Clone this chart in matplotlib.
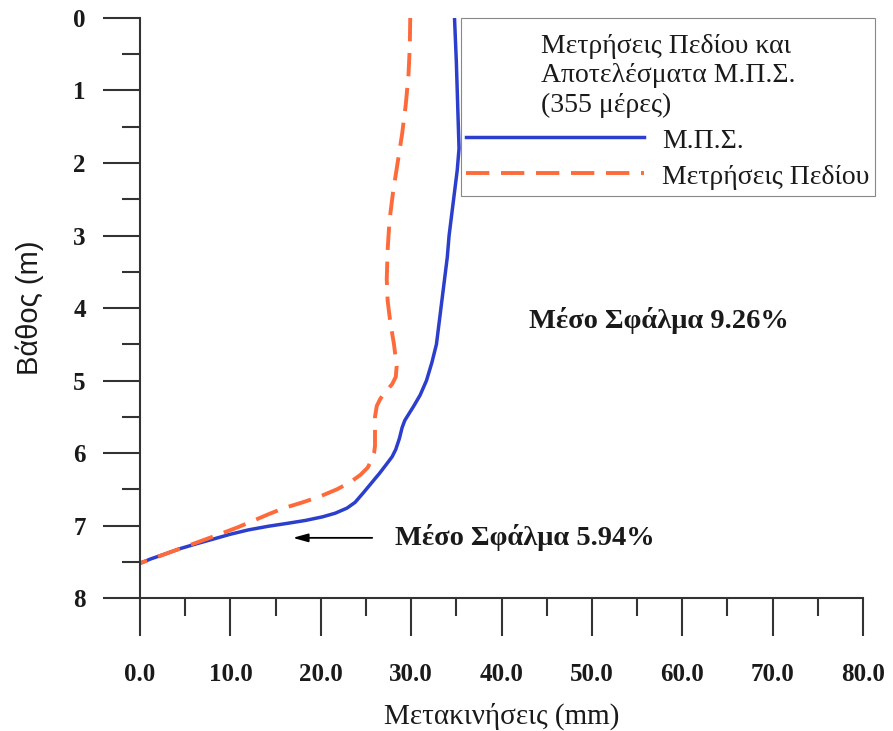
import matplotlib.pyplot as plt
from matplotlib.ticker import MultipleLocator
from matplotlib.offsetbox import DrawingArea

# βάθος (m) και μετακινήσεις (mm)
mps_depth = [0.0, 0.3, 0.6, 1.0, 1.4, 1.8, 2.1, 2.4, 2.7, 3.0, 3.3, 3.6, 3.9, 4.2,
             4.5, 4.75, 5.0, 5.2, 5.35, 5.45, 5.55, 5.65, 5.8, 5.95, 6.05, 6.15,
             6.28, 6.4, 6.55, 6.68, 6.76, 6.83, 6.88, 6.93, 6.97, 7.01, 7.06,
             7.12, 7.18, 7.25, 7.32, 7.4, 7.46, 7.52]
mps_disp = [34.8, 34.9, 35.0, 35.1, 35.2, 35.3, 35.1, 34.8, 34.5, 34.2, 34.0, 33.7,
            33.4, 33.1, 32.8, 32.3, 31.7, 31.0, 30.3, 29.8, 29.3, 29.0, 28.7, 28.3,
            27.9, 27.3, 26.5, 25.7, 24.7, 23.8, 22.9, 21.6, 20.2, 18.3, 16.3, 14.2,
            12.0, 10.0, 8.3, 6.3, 4.4, 2.6, 1.2, 0.0]

field_depth = [0.0, 0.4, 0.8, 1.2, 1.6, 2.0, 2.4, 2.8, 3.2, 3.6, 3.9, 4.2, 4.5, 4.8,
               4.95, 5.05, 5.15, 5.25, 5.35, 5.5, 5.7, 5.9, 6.0, 6.1, 6.2, 6.3, 6.4,
               6.5, 6.6, 6.68, 6.76, 6.84, 6.93, 7.02, 7.12, 7.22, 7.32, 7.42, 7.52]
field_disp = [29.9, 29.85, 29.7, 29.4, 29.0, 28.5, 28.0, 27.6, 27.4, 27.3, 27.4, 27.7,
              28.1, 28.4, 28.3, 27.9, 27.2, 26.6, 26.2, 26.0, 26.0, 26.0, 25.9, 25.6,
              25.2, 24.4, 23.3, 21.8, 19.9, 18.0, 15.9, 14.3, 12.6, 10.9, 8.8, 6.6,
              4.4, 2.2, 0.0]

x_ticks = [0, 10, 20, 30, 40, 50, 60, 70, 80]
y_ticks = [0, 1, 2, 3, 4, 5, 6, 7, 8]

serif = ['Liberation Serif', 'DejaVu Serif']
txt = '#1a1a1a'

fig = plt.figure(figsize=(8.93, 7.31), dpi=100)
ax = fig.add_axes([0.1568, 0.1819, 0.8096, 0.7935])

ax.plot(mps_disp, mps_depth, color='#2b3fcc', lw=2.5, label='Μ.Π.Σ.')
ax.plot(field_disp, field_depth, color='#ff6a3a', lw=2.8, dashes=(6, 3),
        label='Μετρήσεις Πεδίου')

ax.set_xlim(0, 80)
ax.set_ylim(8, 0)
ax.set_xticks(x_ticks)
ax.set_yticks(y_ticks)
ax.set_xticklabels(['%.1f' % v for v in x_ticks], fontfamily=serif, fontsize=18,
                   color=txt, fontweight='bold')
ax.set_yticklabels([str(v) for v in y_ticks], fontfamily=serif, fontsize=18,
                   color=txt, fontweight='bold')
ax.xaxis.set_minor_locator(MultipleLocator(5))
ax.yaxis.set_minor_locator(MultipleLocator(0.5))
ax.tick_params(which='major', length=27, width=1.5, color='#333333')
ax.tick_params(which='minor', length=13, width=1.5, color='#333333')
ax.tick_params(axis='y', which='major', pad=12)
ax.tick_params(axis='x', which='major', pad=20)

for s in ['top', 'right']:
    ax.spines[s].set_visible(False)
for s in ['left', 'bottom']:
    ax.spines[s].set_linewidth(1.5)
    ax.spines[s].set_color('#333333')

ax.set_xlabel('Μετακινήσεις (mm)', fontfamily=serif, fontsize=21, color=txt, labelpad=12)
ax.set_ylabel('Βάθος (m)', fontfamily=['Liberation Sans', 'DejaVu Sans'], fontsize=21,
              color=txt, labelpad=21)

ax.text(43.0, 4.17, 'Μέσο Σφάλμα 9.26%', fontfamily=serif, fontsize=20.5,
        fontweight='bold', color=txt, va='center')
ax.text(28.2, 7.16, 'Μέσο Σφάλμα 5.94%', fontfamily=serif, fontsize=20.5,
        fontweight='bold', color=txt, va='center')
ax.annotate('', xy=(16.6, 7.17), xytext=(26.0, 7.17),
            arrowprops=dict(arrowstyle='-|>,head_length=0.9,head_width=0.25',
                            color='black', lw=1.3))

# υπόμνημα με τίτλο τριών γραμμών, λίγο έξω από τον άξονα δεξιά
leg = ax.legend(loc='upper left', bbox_to_anchor=(0.4436, 1.0),
                title='Μετρήσεις Πεδίου και\nΑποτελέσματα Μ.Π.Σ.\n(355 μέρες)',
                prop={'family': serif, 'size': 20},
                title_fontproperties={'family': serif, 'size': 20},
                handlelength=6.4, handleheight=1.0, handletextpad=0.65, borderpad=0.2,
                borderaxespad=0, labelspacing=0.3, fancybox=False, framealpha=1,
                edgecolor='#888888')
leg.get_frame().set_linewidth(0.8)
leg.get_title().set_multialignment('left')
leg.get_title().set_linespacing(1.22)
leg.get_title().set_color(txt)
for t in leg.get_texts():
    t.set_color(txt)
# λίγος κενός χώρος πάνω από τον τίτλο
leg._legend_box.get_children().insert(0, DrawingArea(1, 1.5))

fig.savefig('out.png', dpi=100)
